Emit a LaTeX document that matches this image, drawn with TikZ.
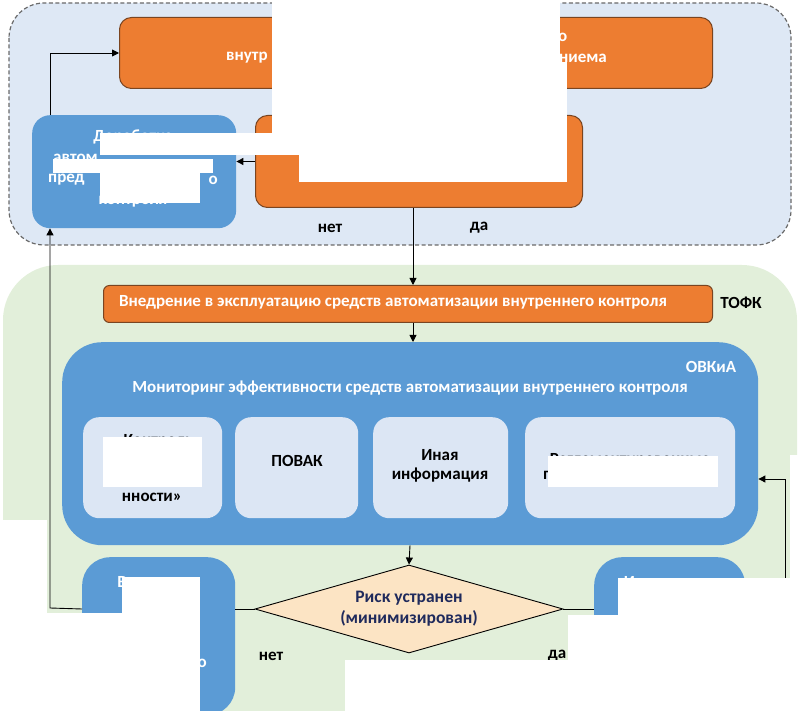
\documentclass[tikz,border=0pt]{standalone}
\usepackage{fontspec}
\setmainfont{Carlito}
\usetikzlibrary{shapes.geometric,arrows.meta}
\definecolor{bgblue}{HTML}{DEE8F5}
\definecolor{bggreen}{HTML}{E2EFDA}
\definecolor{orng}{HTML}{ED7D31}
\definecolor{orngd}{HTML}{7A4521}
\definecolor{blu}{HTML}{5B9BD5}
\definecolor{lblu}{HTML}{DCE6F4}
\definecolor{peach}{HTML}{FCE4C4}
\definecolor{navy}{HTML}{1F2A5C}
\definecolor{dgray}{HTML}{6A6A6A}
\begin{document}
\begin{tikzpicture}[x=1pt,y=-1pt,
  font=\fontsize{17}{20}\selectfont\bfseries,
  obox/.style={draw=orngd, line width=1pt, fill=orng, rounded corners=#1, inner sep=0pt, anchor=north west},
  obox/.default=12pt,
  bbox/.style={fill=blu, rounded corners=#1, inner sep=0pt, anchor=north west},
  lbox/.style={fill=lblu, rounded corners=16pt, inner sep=0pt, anchor=north west},
  wtxt/.style={text=white, inner sep=0pt},
  ktxt/.style={text=black, inner sep=0pt},
  arr/.style={draw=black, line width=0.9pt, -{Triangle[length=7pt,width=7pt]}},
  ln/.style={draw=black, line width=0.9pt},
  redact/.style={fill=white, draw=none}
]
\useasboundingbox (0,0) rectangle (798,711);

% background regions
\draw[fill=bgblue, draw=dgray, dashed, dash pattern=on 4pt off 2.5pt, line width=1.2pt, rounded corners=35pt]
  (9,3) rectangle (791,245);
\fill[bggreen, rounded corners=55pt] (3,265) rectangle (797,740);

% top part
\node[obox, minimum width=593pt, minimum height=71pt] (box1) at (119,17) {};
\node[bbox=18pt, minimum width=204pt, minimum height=113pt] (blue1) at (32,115) {};
\node[obox, minimum width=327pt, minimum height=92pt] (box2) at (255,115) {};

\node[wtxt, anchor=west] (t1a) at (226,58) {внутр};
\node[wtxt, anchor=east] (t1b) at (607,58) {ниема};
\node[wtxt, anchor=west] (t1c) at (558,37) {о};

\node[wtxt] (b1a) at (133,137) {Доработка};
\node[wtxt, anchor=west] (b1b) at (53,158) {автом};
\node[wtxt, anchor=west] (b1c) at (48,180) {пред};
\node[wtxt, anchor=east] (b1d) at (218,180) {о};
\node[wtxt] (b1e) at (133,202) {контроля};

\node[ktxt] (net1) at (330,228) {нет};
\node[ktxt] (da1) at (479,228) {да};

% bottom part
\node[obox=6pt, minimum width=609pt, minimum height=37pt] (impl) at (103,285) {};
\node[wtxt] (implt) at (393,302) {Внедрение в эксплуатацию средств автоматизации внутреннего контроля};
\node[ktxt] (tofk) at (741,303) {ТОФК};

\node[bbox=40pt, minimum width=696pt, minimum height=203pt] (mon) at (62,342) {};
\node[wtxt] (ovkia) at (711,367) {ОВКиА};
\node[wtxt] (mont) at (410,388) {Мониторинг эффективности средств автоматизации внутреннего контроля};

\node[lbox, minimum width=139pt, minimum height=101pt] (in1) at (83,417) {};
\node[lbox, minimum width=123pt, minimum height=101pt] (in2) at (235,417) {};
\node[lbox, minimum width=135pt, minimum height=101pt] (in3) at (373,417) {};
\node[lbox, minimum width=210pt, minimum height=101pt] (in4) at (525,417) {};

\node[ktxt] (in1a) at (154,441) {«Контроль};
\node[ktxt] (in1b) at (152,497) {нности»};
\node[ktxt] (in2t) at (297,461) {ПОВАК};
\node[ktxt, align=center, font=\fontsize{17}{19}\selectfont\bfseries] (in3t) at (440,466) {Иная\\информация};
\node[ktxt] (in4a) at (630,460) {Регламентированные};
\node[ktxt, anchor=west] (in4b) at (543,475) {п};

\node[draw=black, line width=0.9pt, fill=peach, diamond, aspect=3.5, minimum width=308pt, minimum height=88pt, inner sep=0pt,
      text=navy, align=center, font=\fontsize{17.5}{21}\selectfont\bfseries] (dia) at (409,609) {Риск устранен\\(минимизирован)};

\node[bbox=28pt, minimum width=153pt, minimum height=158pt] (vyy) at (82,557) {};
\node[bbox=28pt, minimum width=151pt, minimum height=158pt] (isk) at (594,557) {};
\node[wtxt] (vyyt) at (159,582) {Выявление};
\node[wtxt, anchor=east] (vyyo) at (207,663) {о};
\node[wtxt] (iskt) at (670,582) {Исключение};

\node[ktxt] (net2) at (271,656) {нет};
\node[ktxt] (da2) at (557,656) {да};

% connectors
\coordinate (tc) at (50,53);
\coordinate (xa) at (413,0);
\coordinate (xb) at (410,0);
\coordinate (lc) at (50,608);
\coordinate (rc) at (785,479);

\draw[arr] (tc |- blue1.north) -- (tc) -- (tc -| box1.west);
\draw[arr] (box2.west) -- (box2.west -| blue1.east);
\draw[arr] (box2.south -| xa) -- (impl.north -| xa);
\draw[arr] (impl.south -| xa) -- (mon.north -| xa);
\draw[arr] (mon.south -| xb) -- (dia.north);
\draw[ln] (dia.west) -- (dia.west -| vyy.east);
\draw[ln] (dia.east) -- (dia.east -| isk.west);
\draw[arr] (vyy.west |- dia.west) -- (lc) -- (lc |- blue1.south);
\draw[arr] (isk.east |- dia.east) -| (rc) -- (rc -| mon.east);

% redactions (white patches as in the reference)
\fill[redact] (272,0) rectangle (560,62);
\fill[redact] (272,62) rectangle (567,133);
\fill[redact] (299,133) rectangle (567,182);
\fill[redact] (100,133) rectangle (299,155);
\fill[redact] (53,159) rectangle (213,173);
\fill[redact] (100,173) rectangle (200,203);

\fill[redact] (103,437) rectangle (202,487);
\fill[redact] (548,456) rectangle (718,487);

\fill[redact] (0,520) rectangle (47,711);
\fill[redact] (0,613) rectangle (200,711);
\fill[redact] (122,577) rectangle (200,711);
\fill[redact] (618,578) rectangle (798,711);
\fill[redact] (568,615) rectangle (798,711);
\fill[redact] (345,660) rectangle (798,711);
\fill[redact] (790,455) rectangle (798,711);
\end{tikzpicture}
\end{document}
